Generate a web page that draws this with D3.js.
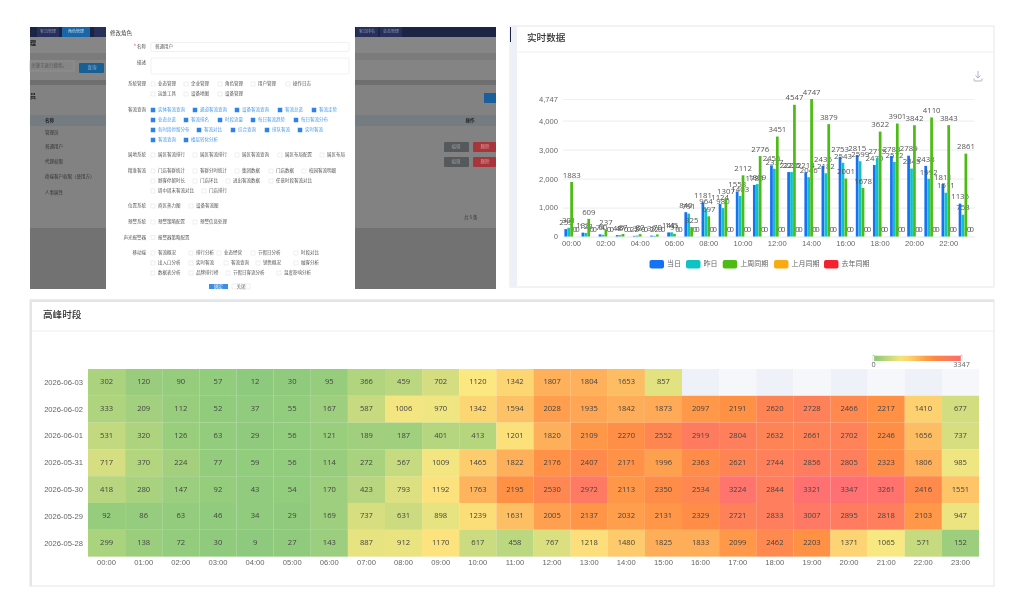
<!DOCTYPE html>
<html lang="zh">
<head>
<meta charset="utf-8">
<title>高峰时段</title>
<script src="https://cdn.jsdelivr.net/npm/d3@7"></script>
<style>
    html, body { margin: 0; padding: 0; background: #fff; }
    svg { display: block; font-family: "Open Sans", "Noto Sans CJK SC", sans-serif; }
    .soft { filter: blur(0.3px); }
    .softer { filter: blur(0.6px); }
</style>
</head>
<body>
<div id="chart"></div>
<script>
// Bar chart data
const hours = d3.range(24).map(h => `${String(h).padStart(2, '0')}:00`);
const barTickValues = [0, 1000, 2000, 3000, 4000, 4747];
const seriesNames = ['当日', '昨日', '上周同期', '上月同期', '去年同期'];
const seriesToday = [255, 133, 74, 48, 22, 30, 141, 840, 1181, 1124, 1553, 1780, 2456, 2225, 2214, 2436, 2753, 2815, 2470, 2783, 2789, 2438, 1811, 1136];
const seriesYesterday = [301, 123, 60, 47, 32, 22, 145, 791, 964, 980, 1403, 1809, 2337, 2225, 2046, 2182, 2543, 2599, 2715, 2572, 2345, 1992, 1511, 753];
const seriesLastWeek = [1883, 609, 237, 87, 82, 70, 91, 325, 697, 1307, 2112, 2776, 3451, 4547, 4747, 3879, 2001, 1678, 3622, 3901, 3842, 4110, 3843, 2861];
const seriesLastMonth = hours.map(() => 0);
const seriesLastYear = hours.map(() => 0);

// Heatmap data
const heatDates = ['2026-06-03', '2026-06-02', '2026-06-01', '2026-05-31', '2026-05-30', '2026-05-29', '2026-05-28'];
const heat0603 = [302, 120, 90, 57, 12, 30, 95, 366, 459, 702, 1120, 1342, 1807, 1804, 1653, 857, null, null, null, null, null, null, null, null];
const heat0602 = [333, 209, 112, 52, 37, 55, 167, 587, 1006, 970, 1342, 1594, 2028, 1935, 1842, 1873, 2097, 2191, 2620, 2728, 2466, 2217, 1410, 677];
const heat0601 = [531, 320, 126, 63, 29, 56, 121, 189, 187, 401, 413, 1201, 1820, 2109, 2270, 2552, 2919, 2804, 2632, 2661, 2702, 2246, 1656, 737];
const heat0531 = [717, 370, 224, 77, 59, 56, 114, 272, 567, 1009, 1465, 1822, 2176, 2407, 2171, 1996, 2363, 2621, 2744, 2856, 2805, 2323, 1806, 985];
const heat0530 = [418, 280, 147, 92, 43, 54, 170, 423, 793, 1192, 1763, 2195, 2530, 2972, 2113, 2350, 2534, 3224, 2844, 3321, 3347, 3261, 2416, 1551];
const heat0529 = [92, 86, 63, 46, 34, 29, 169, 737, 631, 898, 1239, 1631, 2005, 2137, 2032, 2131, 2329, 2721, 2833, 3007, 2895, 2818, 2103, 947];
const heat0528 = [299, 138, 72, 30, 9, 27, 143, 887, 912, 1170, 617, 458, 767, 1218, 1480, 1825, 1833, 2099, 2462, 2203, 1371, 1065, 571, 152];
const heatRows = [heat0603, heat0602, heat0601, heat0531, heat0530, heat0529, heat0528];

// Text of the role dialog in the screenshot: [group, [item, checked, x]...] per row
const formRows = [
    ['系统管理', [['业态管理', 0, 151], ['企业管理', 0, 184], ['角色管理', 0, 218], ['用户管理', 0, 251], ['操作日志', 0, 286]]],
    ['', [['运维工具', 0, 151], ['设备地图', 0, 184], ['设备管理', 0, 218]]],
    ['客流查询', [['实体客流查询', 1, 151], ['通道客流查询', 1, 193], ['设备客流查询', 1, 235], ['客流总览', 1, 278], ['客流走势', 1, 312]]],
    ['', [['业态总览', 1, 151], ['客流排名', 1, 184], ['时段流量', 1, 218], ['每日客流趋势', 1, 251], ['每日客流分布', 1, 294]]],
    ['', [['各时段停留分布', 1, 151], ['客流对比', 1, 197], ['综合查询', 1, 231], ['排队客流', 1, 265], ['实时客流', 1, 298]]],
    ['', [['客流查询', 1, 151], ['楼层转化分析', 1, 184]]],
    ['属地系统', [['属区客流排行', 0, 151], ['属区客流排行', 0, 193], ['属区客流查询', 0, 235], ['属区布局配置', 0, 278], ['属区布局', 0, 320]]],
    ['精准客流', [['门店客群统计', 0, 151], ['客群分时统计', 0, 193], ['集团数据', 0, 235], ['门店数据', 0, 269], ['校园客流明细', 0, 302]]],
    ['', [['顾客停留时长', 0, 151], ['门店环比', 0, 193], ['进出客流数据', 0, 226], ['任意时段客流对比', 0, 269]]],
    ['', [['周中周末客流对比', 0, 151], ['门店排行', 0, 202]]],
    ['位置系统', [['商区热力图', 0, 151], ['设备客流图', 0, 189]]],
    ['预警系统', [['预警策略配置', 0, 151], ['预警信息处理', 0, 193]]],
    ['声光报警器', [['报警器策略配置', 0, 151]]],
    ['移动端', [['客流概况', 0, 151], ['排行分析', 0, 189], ['业态经营', 0, 217], ['节假日分析', 0, 251], ['时段对比', 0, 294]]],
    ['', [['出入口分析', 0, 151], ['实时客流', 0, 189], ['客流查询', 0, 224], ['销售概况', 0, 256], ['融客分析', 0, 294]]],
    ['', [['数据表分析', 0, 151], ['品牌排行榜', 0, 189], ['节假日客流分析', 0, 226], ['温度影响分析', 0, 277]]]
];
const formRowY = [84, 94, 110, 120, 130, 140, 155, 171, 181, 191, 206, 222, 237.5, 253, 263, 273];
const tableRowNames = ['管理员', '普通用户', '代理权限', '终端客户权限（使用方）', '人事属性'];
const tableRowY = [133, 147, 162, 177, 193];

const svg = d3.select('#chart')
    .append('svg')
    .attr('width', 1023)
    .attr('height', 614)
    .attr('viewBox', [0, 0, 1023, 614]);
const defs = svg.append('defs');

// Screenshot of the role dialog
(function screenshot() {
    const g = svg.append('g').attr('class', 'softer');
    const rect = (x, y, w, h, fill, extra = {}) => {
        const r = g.append('rect').attr('x', x).attr('y', y).attr('width', w).attr('height', h).attr('fill', fill);
        Object.entries(extra).forEach(([k, v]) => r.attr(k, v));
        return r;
    };
    const text = (x, y, s, size, fill, anchor = 'start', weight = 400) => g.append('text')
        .attr('x', x).attr('y', y).attr('font-size', size).attr('fill', fill)
        .attr('text-anchor', anchor).attr('font-weight', weight)
        .attr('dominant-baseline', 'middle')
        .attr('font-family', '"Noto Sans CJK SC", sans-serif')
        .text(s);

    // greyed page behind the dialog
    rect(30, 27, 466, 262, '#808080');
    rect(30, 27, 466, 10, '#1b2445');
    rect(30, 37, 466, 16, '#868686');
    rect(30, 53, 466, 7, '#7b7b7b');
    rect(30, 60, 466, 20, '#848484');
    rect(30, 80, 466, 5, '#6f6f6f');
    rect(30, 85, 466, 143, '#828282');
    rect(30, 115, 466, 11, '#747c82');
    rect(30, 228, 466, 61, '#727272');
    rect(37, 27, 22, 10, '#27305a');
    rect(62, 27, 28, 10, '#1767a8');
    rect(94, 27, 12, 10, '#27305a');
    rect(356, 27, 22, 10, '#27305a');
    rect(380, 27, 22, 10, '#27305a');
    text(48, 31.5, '客流管理', 4, '#8d94b0', 'middle');
    text(76, 31.5, '角色管理', 4, '#c4dbee', 'middle');
    text(367, 31.5, '客流排名', 4, '#8d94b0', 'middle');
    text(391, 31.5, '业态管理', 4, '#8d94b0', 'middle');
    text(30, 43, '理', 6, '#222', 'start', 700);
    rect(30, 61, 44, 10, '#868686', { stroke: '#999', 'stroke-width': 0.5 });
    text(31, 66, '关键字进行搜索。', 4.5, '#555');
    rect(79, 63, 25, 10, '#185f94', { rx: 1 });
    text(92, 68, '查询', 4.5, '#8fb5d4', 'middle');
    text(30, 96, '员', 6, '#222', 'start', 700);
    text(45, 120.5, '名称', 4.5, '#222', 'start', 700);
    text(470, 120.5, '操作', 4.5, '#222', 'middle', 700);
    tableRowNames.forEach((name, i) => text(45, tableRowY[i], name, 4.5, '#333'));
    rect(484, 93, 12, 10, '#195f9c');
    tableRowY.slice(1, 3).forEach(y => {
        rect(444, y - 5, 25, 10, '#55595c', { rx: 1 });
        text(456, y, '编辑', 4.5, '#999', 'middle');
        rect(473, y - 5, 23, 10, '#a8343c', { rx: 1 });
        text(485, y, '删除', 4.5, '#d8a0a0', 'middle');
    });
    text(464, 218, '共 5 条', 4.5, '#333');

    // dialog
    rect(106, 26, 249, 263, '#fff');
    text(110, 33, '修改角色', 5.5, '#444');
    text(146, 47, '名称', 4.5, '#555', 'end');
    text(136, 47, '*', 5, '#e04040', 'end');
    rect(151, 42.5, 198, 9, '#fff', { stroke: '#e4e7ed', 'stroke-width': 0.6, rx: 1 });
    text(155, 47, '普通用户', 4.5, '#555');
    text(146, 63, '描述', 4.5, '#555', 'end');
    rect(151, 58, 198, 16, '#fff', { stroke: '#e4e7ed', 'stroke-width': 0.6, rx: 1 });

    formRows.forEach(([group, items], i) => {
        const y = formRowY[i];
        if (group) text(146, y, group, 4.5, '#555', 'end');
        items.forEach(([label, checked, x]) => {
            rect(x, y - 2, 4, 4, checked ? '#2f83e8' : '#fff', { stroke: checked ? '#2f83e8' : '#dcdfe6', 'stroke-width': 0.5 });
            text(x + 7, y, label, 4.5, checked ? '#4a9ae8' : '#555');
        });
    });
    rect(209, 284, 19, 5, '#3a8ee6');
    text(218.5, 287, '确定', 4.5, '#e8f0fa', 'middle');
    rect(232, 284, 18, 5, '#fff', { stroke: '#dcdfe6', 'stroke-width': 0.5 });
    text(241, 287, '关闭', 4.5, '#666', 'middle');
})();

// Real-time bar chart
(function barChart() {
    const g = svg.append('g').attr('class', 'soft');
    const tickColor = '#666';
    const colours = ['#1472f5', '#10c2c2', '#4cbc14', '#faab14', '#f5222d'];
    const series = [seriesToday, seriesYesterday, seriesLastWeek, seriesLastMonth, seriesLastYear];

    // card
    g.append('rect').attr('x', 510).attr('y', 26).attr('width', 484).attr('height', 261).attr('fill', '#fff').attr('stroke', '#e6e7eb').attr('stroke-width', 1);
    g.append('rect').attr('x', 510).attr('y', 26).attr('width', 7).attr('height', 261).attr('fill', '#eef0f6');
    g.append('rect').attr('x', 510).attr('y', 27).attr('width', 1).attr('height', 15).attr('fill', '#1b2445');
    g.append('line').attr('x1', 517).attr('x2', 994).attr('y1', 52).attr('y2', 52).attr('stroke', '#eeeeee');
    g.append('text').attr('x', 527).attr('y', 38).attr('dominant-baseline', 'middle').attr('font-size', 9.6).attr('font-weight', 500)
        .attr('font-family', '"Noto Sans CJK SC", sans-serif').attr('fill', '#333').text('实时数据');

    const xScale = d3.scaleBand().domain(hours).range([563, 974.4]);
    const yScale = d3.scaleLinear().domain([0, 4747]).range([236.5, 99]);
    const barScale = d3.scaleBand().domain(d3.range(5)).range([1.4, 16]);

    // y axis with grid lines
    const yAxis = g.append('g')
        .attr('transform', 'translate(563, 0)')
        .call(d3.axisLeft(yScale).tickValues(barTickValues).tickSize(-411.4).tickPadding(5).tickFormat(d3.format(',')));
    yAxis.select('.domain').remove();
    yAxis.selectAll('line').attr('stroke', '#eef0f3').attr('stroke-width', 1.2);
    yAxis.selectAll('text').attr('fill', tickColor).attr('font-size', 7.6);

    // x axis
    const xAxis = g.append('g')
        .attr('transform', 'translate(0, 236.5)')
        .call(d3.axisBottom(xScale).tickValues(hours.filter((h, i) => i % 2 === 0)).tickSize(0).tickPadding(4.5));
    xAxis.select('.domain').attr('stroke', '#eef0f3').attr('stroke-width', 1.2);
    xAxis.selectAll('text').attr('fill', tickColor).attr('font-size', 7.6);

    // bars and value labels
    series.forEach((values, s) => {
        const sg = g.append('g').attr('class', 'bar-series').attr('data-series', seriesNames[s]);
        sg.selectAll('rect')
            .data(values)
            .enter()
            .append('rect')
            .attr('x', (d, i) => xScale(hours[i]) + barScale(s))
            .attr('y', d => yScale(d))
            .attr('width', barScale.bandwidth() - 0.2)
            .attr('height', d => yScale(0) - yScale(d))
            .attr('fill', colours[s]);
        sg.selectAll('text')
            .data(values)
            .enter()
            .append('text')
            .attr('x', (d, i) => xScale(hours[i]) + barScale(s) + barScale.bandwidth() / 2)
            .attr('y', d => yScale(d) - 4.3)
            .attr('text-anchor', 'middle')
            .attr('font-size', 7.8)
            .attr('fill', '#555')
            .text(d => d);
    });

    // legend
    const legendX = [649.5, 686, 722.7, 774, 824];
    const legend = g.append('g').selectAll('g')
        .data(seriesNames)
        .enter()
        .append('g')
        .attr('transform', (d, i) => `translate(${legendX[i]}, 260)`);
    legend.append('rect').attr('width', 14.5).attr('height', 8.5).attr('rx', 2).attr('fill', (d, i) => colours[i]);
    legend.append('text')
        .attr('x', 17.5).attr('y', 4.5).attr('dominant-baseline', 'middle').attr('font-size', 7)
        .attr('font-family', '"Noto Sans CJK SC", sans-serif').attr('fill', tickColor).text(d => d);

    // download icon
    g.append('path')
        .attr('d', 'M978 71v7M975.5 75.5l2.5 2.5l2.5-2.5M974 78.5v1.5a1 1 0 0 0 1 1h6a1 1 0 0 0 1-1v-1.5')
        .attr('fill', 'none').attr('stroke', '#a4abc8').attr('stroke-width', 0.9);
})();

// Peak hours heatmap
(function heatmap() {
    const g = svg.append('g').attr('class', 'soft');
    const tickColor = '#666';
    const maxValue = 3347;

    // card
    g.append('rect').attr('x', 30).attr('y', 300).attr('width', 964).attr('height', 286).attr('fill', '#fff').attr('stroke', '#e4e5ea').attr('stroke-width', 1);
    g.append('rect').attr('x', 30).attr('y', 299.5).attr('width', 964).attr('height', 2.5).attr('fill', '#e4e5ea');
    g.append('rect').attr('x', 30).attr('y', 300).attr('width', 2).attr('height', 286).attr('fill', '#e4e5ea');
    g.append('line').attr('x1', 32).attr('x2', 994).attr('y1', 331).attr('y2', 331).attr('stroke', '#eeeeee');
    g.append('text').attr('x', 43).attr('y', 315).attr('dominant-baseline', 'middle').attr('font-size', 9.6).attr('font-weight', 500)
        .attr('font-family', '"Noto Sans CJK SC", sans-serif').attr('fill', '#333').text('高峰时段');

    const xScale = d3.scaleBand().domain(hours).range([88, 979]);
    const yScale = d3.scaleBand().domain(heatDates).range([369, 556.6]);
    const colour = d3.scaleLinear()
        .domain([0, maxValue * 0.33, maxValue * 0.66, maxValue])
        .range(['#88c878', '#fce87c', '#ff8b3c', '#ff6a6c'])
        .interpolate(d3.interpolateRgb);

    // striped split area behind the empty cells
    g.append('g').selectAll('rect')
        .data(hours)
        .enter()
        .append('rect')
        .attr('x', d => xScale(d))
        .attr('y', 369)
        .attr('width', xScale.bandwidth())
        .attr('height', 187.6)
        .attr('fill', (d, i) => i % 2 === 0 ? '#eef1f8' : '#f6f7fb');

    const cells = heatRows.flatMap((row, r) => row.map((value, c) => ({ date: heatDates[r], hour: hours[c], value })))
        .filter(d => d.value !== null);

    const cell = g.append('g').selectAll('g')
        .data(cells)
        .enter()
        .append('g');
    cell.append('rect')
        .attr('x', d => xScale(d.hour))
        .attr('y', d => yScale(d.date))
        .attr('width', xScale.bandwidth())
        .attr('height', yScale.bandwidth())
        .attr('fill', d => colour(d.value))
        .attr('fill-opacity', 0.96);
    cell.append('text')
        .attr('x', d => xScale(d.hour) + xScale.bandwidth() / 2)
        .attr('y', d => yScale(d.date) + yScale.bandwidth() / 2)
        .attr('text-anchor', 'middle')
        .attr('dominant-baseline', 'middle')
        .attr('font-size', 7.6)
        .attr('fill', '#444')
        .text(d => d.value);

    // axes
    const xAxis = g.append('g')
        .attr('transform', 'translate(0, 556.6)')
        .call(d3.axisBottom(xScale).tickSize(0).tickPadding(3.5));
    xAxis.select('.domain').remove();
    xAxis.selectAll('text').attr('fill', tickColor).attr('font-size', 7.6);
    const yAxis = g.append('g')
        .attr('transform', 'translate(88, 0)')
        .call(d3.axisLeft(yScale).tickSize(0).tickPadding(5));
    yAxis.select('.domain').remove();
    yAxis.selectAll('text').attr('fill', tickColor).attr('font-size', 7.6);

    // visual map legend
    const legendScale = d3.scaleLinear().domain([0, maxValue]).range([873.5, 961.5]);
    const gradient = defs.append('linearGradient').attr('id', 'heat-legend');
    d3.range(0, 1.01, 0.1).forEach(t => {
        gradient.append('stop').attr('offset', t).attr('stop-color', colour(t * maxValue));
    });
    g.append('rect')
        .attr('x', legendScale(0)).attr('y', 355.7)
        .attr('width', legendScale(maxValue) - legendScale(0)).attr('height', 5.3)
        .attr('fill', 'url(#heat-legend)');
    // end handles
    g.append('g').selectAll('rect')
        .data([0, maxValue])
        .enter()
        .append('rect')
        .attr('x', d => legendScale(d) - 0.6)
        .attr('y', 355)
        .attr('width', 1.2)
        .attr('height', 6.6)
        .attr('fill', '#fff')
        .attr('stroke', '#bbb')
        .attr('stroke-width', 0.3);
    g.append('g').selectAll('text')
        .data([0, maxValue])
        .enter()
        .append('text')
        .attr('x', d => legendScale(d))
        .attr('y', 365)
        .attr('text-anchor', 'middle')
        .attr('dominant-baseline', 'middle')
        .attr('font-size', 7.3)
        .attr('fill', tickColor)
        .text(d => d);
})();
</script>
</body>
</html>
